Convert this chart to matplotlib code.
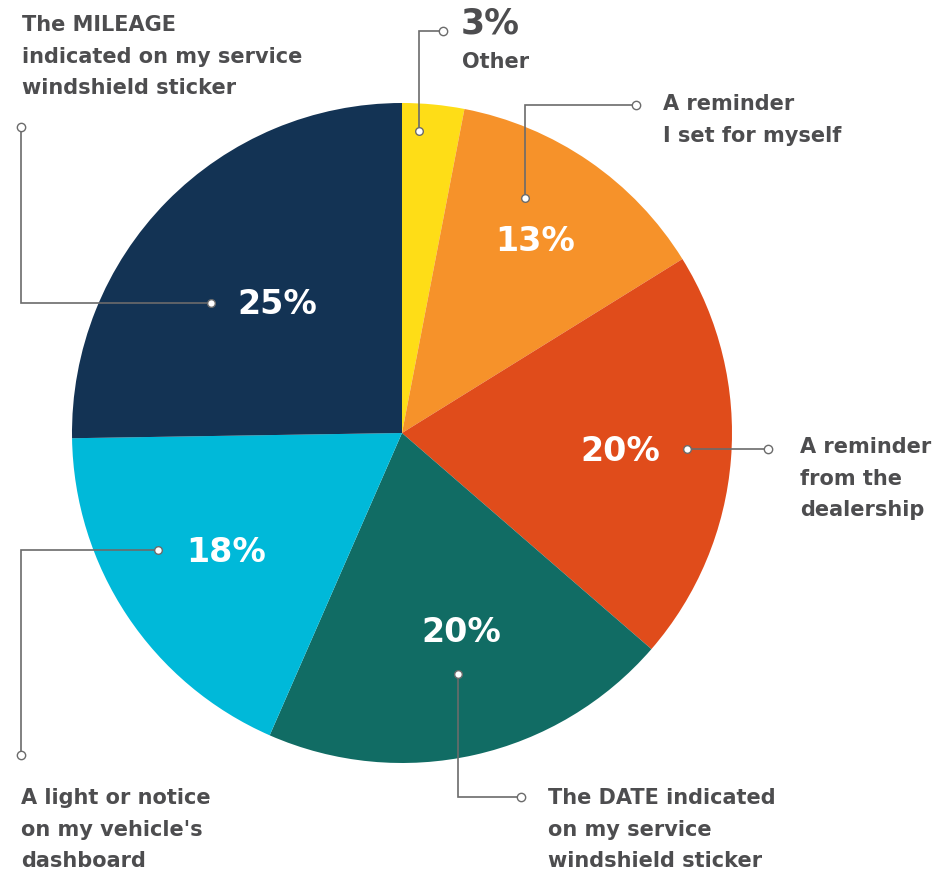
import matplotlib.pyplot as plt

# survey shares, clockwise from 12 o'clock
categories = ["Other", "A reminder\nI set for myself", "A reminder\nfrom the\ndealership",
              "The DATE indicated\non my service\nwindshield sticker",
              "A light or notice\non my vehicle's\ndashboard",
              "The MILEAGE\nindicated on my service\nwindshield sticker"]
values = [3, 13, 20, 20, 18, 25]
colors = ["#FEDD17", "#F6922A", "#E04C1B", "#116C64", "#00B9D9", "#133354"]

W, H = 953, 871
TXT = "#4d4d4f"
LINE = "#6b6b6b"
plt.rcParams['font.family'] = ['DejaVu Sans']


def Y(y):
    # page coordinates run top-down
    return H - y


fig = plt.figure(figsize=(W / 100, H / 100), dpi=100)
ax = fig.add_axes([0, 0, 1, 1])

ax.pie(values, colors=colors, startangle=90, counterclock=False,
       center=(402, Y(433)), radius=330, wedgeprops=dict(linewidth=0))

# leader lines: path in page coords, first point sits inside the slice
leaders = [
    [(419, 131), (419, 31), (443, 31)],
    [(525, 198), (525, 105), (636, 105)],
    [(687, 449), (768, 449)],
    [(458, 674), (458, 797), (521, 797)],
    [(158, 550), (21, 550), (21, 755)],
    [(211, 303), (21, 303), (21, 127)],
]
for pts in leaders:
    xs = [p[0] for p in pts]
    ys = [Y(p[1]) for p in pts]
    ax.plot(xs, ys, color=LINE, lw=1.2, solid_joinstyle='miter', zorder=3)
    ax.plot(xs[0], ys[0], 'o', ms=5.5, mfc='white', mec=LINE, mew=1, zorder=4)
    ax.plot(xs[-1], ys[-1], 'o', ms=6, mfc='white', mec=LINE, mew=1, zorder=4)

# percentages inside the slices (the small "Other" share is written outside)
pct_pos = [None, (535, 241), (620, 451), (461, 632), (226, 553), (277, 304)]
for v, pos in zip(values, pct_pos):
    if pos is None:
        continue
    ax.text(pos[0], Y(pos[1]), f"{v}%", color='white', fontsize=24,
            fontweight='bold', ha='center', va='center', zorder=5)

ax.text(461, Y(23), f"{values[0]}%", color=TXT, fontsize=25, fontweight='bold',
        ha='left', va='center')

# category labels, one line at a time
label_pos = [(462, 62), (663, 104), (800, 447), (548, 798), (21, 798), (22, 25)]
for cat, (x, y) in zip(categories, label_pos):
    for i, line in enumerate(cat.split("\n")):
        ax.text(x, Y(y + i * 31.5), line, color=TXT, fontsize=15,
                fontweight='bold', ha='left', va='center')

ax.set_xlim(0, W)
ax.set_ylim(0, H)
ax.set_aspect('equal')
ax.axis('off')

fig.savefig("out.png", dpi=100, facecolor='white')
